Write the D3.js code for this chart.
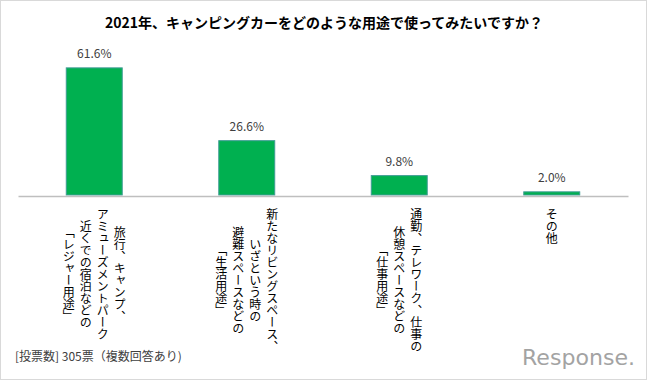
<!DOCTYPE html>
<html>
<head>
<meta charset="utf-8">
<script src="https://cdn.jsdelivr.net/npm/d3@7"></script>
<style>
  html, body { margin: 0; padding: 0; background: #fff; }
  #chart { width: 647px; height: 380px; }
  text { font-family: "Noto Sans CJK JP", "Noto Sans", sans-serif; }
</style>
</head>
<body>
<div id="chart"></div>
<script>
// データ
const title = "2021年、キャンピングカーをどのような用途で使ってみたいですか？";
const categoryLines = [
  ["旅行、キャンプ、", "アミューズメントパーク", "近くでの宿泊などの", "「レジャー用途」"],
  ["新たなリビングスペース、", "いざという時の", "避難スペースなどの", "「生活用途」"],
  ["通勤、テレワーク、仕事の", "休憩スペースなどの", "「仕事用途」"],
  ["その他"]
];
const values = [61.6, 26.6, 9.8, 2.0];
const footnote = "[投票数] 305票（複数回答あり)";

function drawChart() {
  const width = 647, height = 380;
  const svg = d3.select("#chart").append("svg")
    .attr("width", width)
    .attr("height", height);

  // 外枠
  svg.append("rect")
    .attr("x", 0.5).attr("y", 0.5)
    .attr("width", width - 1).attr("height", height - 1)
    .attr("fill", "#fff")
    .attr("stroke", "#d9d9d9");

  // タイトル
  svg.append("text")
    .attr("x", 324)
    .attr("y", 28)
    .attr("text-anchor", "middle")
    .attr("font-size", "14px")
    .attr("font-weight", "bold")
    .attr("fill", "#000")
    .text(title);

  const baseY = 196;
  const x = d3.scaleBand()
    .domain(values.map((d, i) => i))
    .range([18, 628])
    .paddingInner(0.633)
    .paddingOuter(0.3165);
  const y = d3.scaleLinear().domain([0, 70]).range([baseY, baseY - 70 * 2.08]);

  // 棒
  svg.selectAll(".bar")
    .data(values)
    .enter()
    .append("rect")
    .attr("class", "bar")
    .attr("x", (d, i) => x(i))
    .attr("y", d => y(d))
    .attr("width", x.bandwidth())
    .attr("height", d => baseY - 1 - y(d))
    .attr("fill", "#00b050")
    .attr("stroke", "#3f9c94")
    .attr("stroke-width", 1);

  // 値ラベル
  svg.selectAll(".val")
    .data(values)
    .enter()
    .append("text")
    .attr("class", "val")
    .attr("x", (d, i) => x(i) + x.bandwidth() / 2)
    .attr("y", d => y(d) - 10)
    .attr("text-anchor", "middle")
    .attr("font-size", "12px")
    .attr("fill", "#404040")
    .text(d => d.toFixed(1) + "%");

  // x軸
  const axis = svg.append("g")
    .attr("transform", `translate(0,${baseY})`)
    .call(d3.axisBottom(x).tickSize(0).tickFormat(""));
  axis.select(".domain")
    .attr("stroke", "#bfbfbf")
    .attr("stroke-width", 1.5);
  axis.selectAll(".tick text").remove();

  // 縦書きラベル（右の列から左へ）
  const colGap = 17, fs = 12, topY = 208;
  axis.selectAll(".tick").each(function(d) {
    const lines = categoryLines[d];
    const n = lines.length;
    const maxLen = d3.max(lines, l => l.length);
    const cy = topY - baseY + maxLen * fs / 2;
    d3.select(this).selectAll(".cat")
      .data(lines)
      .enter()
      .append("text")
      .attr("class", "cat")
      .attr("x", (l, j) => (n - 1) / 2 * colGap - j * colGap)
      .attr("y", cy)
      .attr("text-anchor", "middle")
      .style("writing-mode", "vertical-rl")
      .attr("font-size", fs + "px")
      .attr("fill", "#000")
      .text(l => l);
  });

  // 注記
  svg.append("text")
    .attr("x", 15)
    .attr("y", 361)
    .attr("font-size", "12px")
    .attr("fill", "#404040")
    .text(footnote);

  // ロゴ
  const logo = svg.append("g").attr("fill", "#a3a3a3");
  logo.append("text")
    .attr("x", 522)
    .attr("y", 365)
    .attr("font-size", "21px")
    .attr("textLength", 113)
    .attr("lengthAdjust", "spacingAndGlyphs")
    .style("font-family", "'DejaVu Sans', sans-serif")
    .text("Response.");
}

window.addEventListener("DOMContentLoaded", drawChart);
</script>
</body>
</html>
